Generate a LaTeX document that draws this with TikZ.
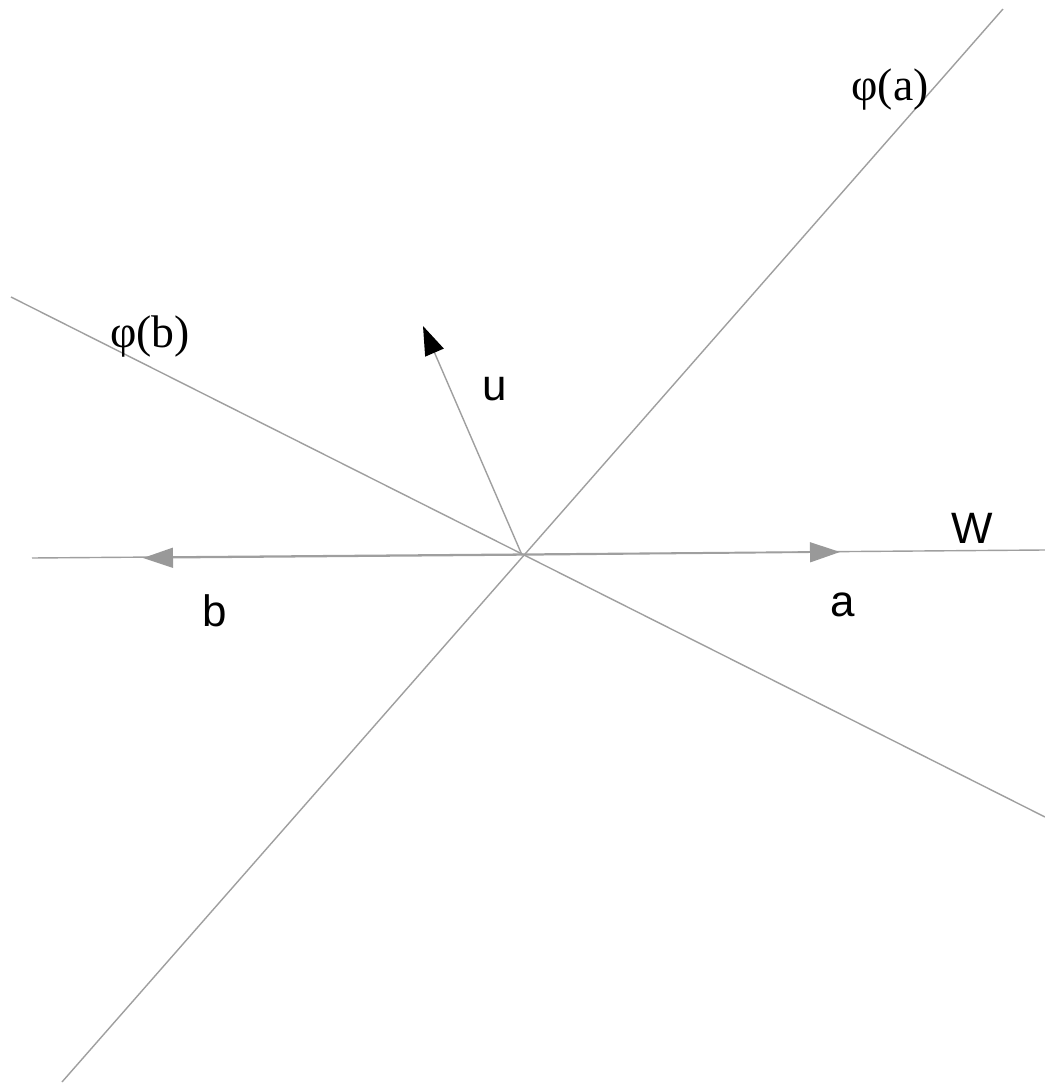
\documentclass[tikz,border=0pt]{standalone}
\usepackage{fontspec}
\setmainfont{Liberation Serif}
\newfontfamily\helv{Liberation Sans}
\usetikzlibrary{arrows.meta}
\tikzset{
    thinline/.style={draw=gray!75, line width=0.4pt},
    greyvec/.style={thinline, -{Triangle[length=3mm,width=2mm,color=gray!80]}},
    blackvec/.style={thinline, -{Triangle[length=2.9mm,width=2mm,color=black]}},
    serlabel/.style={font=\fontsize{13}{15}\selectfont},
    sanslabel/.style={font=\helv\fontsize{12.5}{14}\selectfont}
}

\begin{document}
\begin{tikzpicture}
            \useasboundingbox (0,0) rectangle (10.45,10.84);
            \coordinate (O) at (5.22,5.29);
            \coordinate (pa1) at (0.62,0.02);
            \coordinate (pa2) at (10.03,10.75);
            \coordinate (pb1) at (0.11,7.87);
            \coordinate (pb2) at (10.45,2.67);
            \coordinate (w1) at (0.32,5.26);
            \coordinate (w2) at (10.45,5.34);
            \coordinate (atip) at (8.40,5.32);
            \coordinate (btip) at (1.43,5.26);
            \coordinate (utip) at (4.23,7.58);
            % the two image lines and W
            \draw[thinline] (pa1)--(pa2);
            \draw[thinline] (pb1)--(pb2);
            \draw[thinline] (w1)--(w2);
            % vectors
            \draw[greyvec] (O)--(atip);
            \draw[greyvec] (O)--(btip);
            \draw[blackvec] (O)--(utip);
            \node[serlabel] (phia) at (8.90,9.94) {φ(a)};
            \node[serlabel] (phib) at (1.50,7.47) {φ(b)};
            \node[sanslabel] (ulab) at (4.95,6.95) {u};
            \node[sanslabel] (wlab) at (9.72,5.56) {W};
            \node[sanslabel] (alab) at (8.43,4.79) {a};
            \node[sanslabel] (blab) at (2.15,4.73) {b};
        \end{tikzpicture}
\end{document}
